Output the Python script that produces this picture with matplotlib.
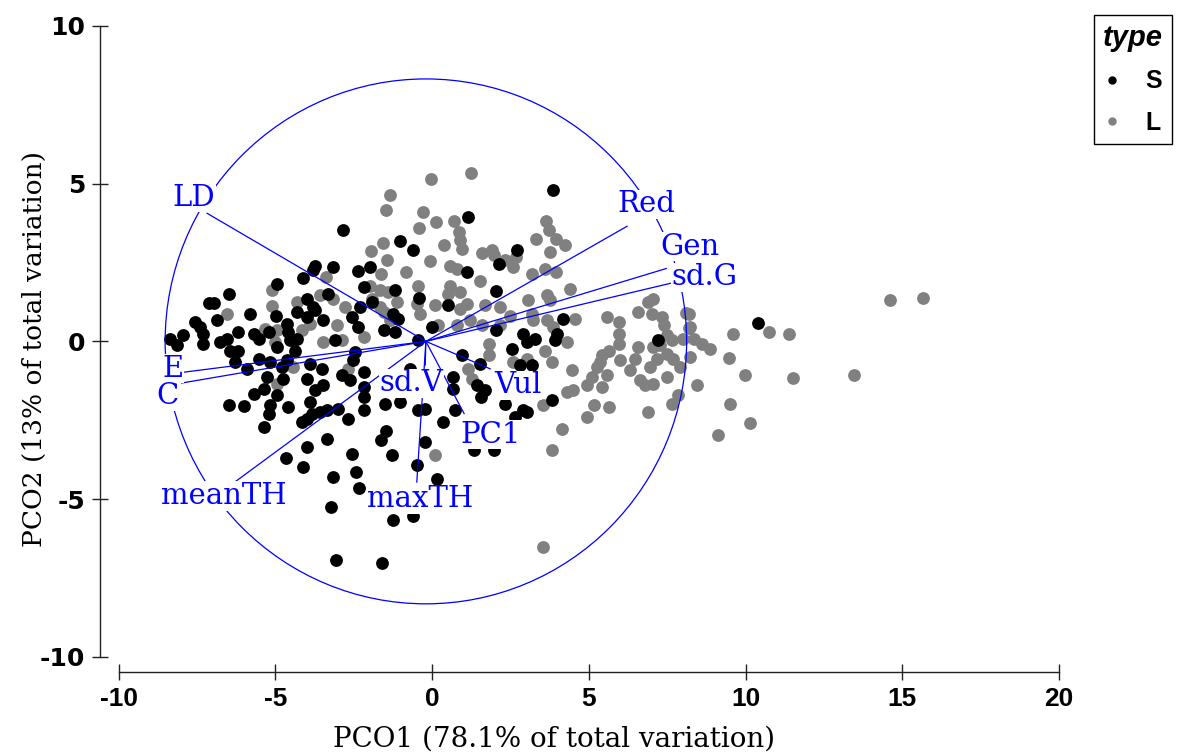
import matplotlib
matplotlib.use("Agg")
import matplotlib.pyplot as plt
from matplotlib.patches import Circle
from matplotlib.lines import Line2D

plt.rcParams["axes.unicode_minus"] = False

# type S (black)
s_x = [-2.86, -3.73, -3.81, -3.15, -2.35, -4.13, -1.02, -1.98, -1.18,
       -6.48, -4.96, -7.11, -6.95, -5.81, -6.87, -7.56, -7.40, -7.30, -7.94,
       -8.36, -8.15, -7.30, -6.77, -6.55, -6.45, -6.18, -6.18, -6.29, -5.70,
       -5.54, -5.22, -4.98, -4.96, -4.64, -4.59, -4.53, -4.32, -4.37, -4.32,
       -4.00, -4.00, -3.73, -3.47, -3.31, -3.79, -3.10, -2.56, -2.35, -2.30,
       -2.46, -5.91, -5.54, -5.17, -4.64, -4.80, -3.89, -3.52, -5.28, -4.75,
       -4.00, -5.38, -5.70, -4.96, -3.73, -3.47, -2.88, -2.62, -2.19, -2.51,
       -2.19, -2.19, -1.92, -1.08, -1.55, -1.18,
       -0.44, 0.52, -0.01, 2.91, 3.02, 2.54, 0.95, 1.53, -0.70, 0.68, 0.68,
       1.43, 1.69, 1.55, -0.22, -0.44, 0.73, 2.33, 2.91, -1.24, 2.81, 3.18,
       1.16, -0.60, 2.72, 2.13, 1.11, 2.04, -0.41, 3.85, 2.04,
       4.17, 3.29, 3.98, 3.93, 7.22, 3.82,
       3.02, 0.36, -0.22, -0.49, 0.15, -0.60, 1.32, 1.96, 2.65,
       10.40,
       -6.47, -5.99, -5.38, -5.22, -5.17, -4.59, -4.16, -4.00, -3.84, -3.57,
       -3.89, -3.36, -2.99, -2.67, -2.19, -2.19, -1.50, -1.02, -1.47, -1.64,
       -1.29, -3.36, -4.00, -4.66, -4.11, -2.56, -2.44, -2.32, -3.15, -3.22,
       -1.24, -3.07, -1.59]
s_y = [3.52, 2.38, 2.25, 2.36, 2.22, 2.01, 3.17, 2.36, 1.62,
       1.51, 1.83, 1.21, 1.21, 0.88, 0.67, 0.61, 0.45, 0.24, 0.19,
       0.09, -0.13, -0.07, -0.02, 0.09, -0.29, -0.29, 0.29, -0.66, 0.24,
       0.09, 0.29, 0.79, -0.18, 0.56, 0.29, 0.03, 0.09, -0.29, 0.93,
       0.77, 1.35, 0.98, 0.67, 1.51, 1.09, 0.03, 0.77, 0.45, 1.09,
       -0.34, -0.87, -0.55, -0.66, -0.60, -0.81, -0.71, -0.87, -1.13, -1.18,
       -1.18, -1.50, -1.66, -1.71, -1.55, -1.39, -1.08, -1.24, -0.97, -0.60,
       -1.45, 1.72, 1.25, 0.72, 0.35, 0.29,
       0.03, 1.14, 0.45, 0.24, -0.02, -0.23, -0.44, -0.71, -0.87, -1.13, -1.50,
       -1.39, -1.55, -1.75, -2.13, -2.19, -2.19, -1.97, -2.19, 0.88, -0.76, -0.76,
       3.94, 2.91, 2.91, 2.44, 2.20, 1.59, 1.37, 4.79, 0.37,
       0.72, 0.09, 0.24, 0.03, 0.03, -1.87,
       -2.24, -2.56, -3.19, -3.93, -4.35, -5.52, -3.43, -3.43, -2.40,
       0.59,
       -2.01, -2.05, -2.72, -2.29, -2.03, -2.08, -2.56, -2.45, -2.29, -2.24,
       -1.92, -2.19, -2.13, -2.45, -2.19, -1.77, -1.97, -1.92, -2.84, -3.14,
       -3.59, -3.11, -3.35, -3.70, -3.98, -3.56, -4.14, -4.65, -4.30, -5.25,
       -5.67, -6.92, -7.03]

# type L (grey)
l_x = [-3.38, -1.36, -1.47, -1.57, -1.96, -1.43, -1.64, -0.83, -1.98, -1.66,
       -1.40, -1.92, -1.13, -1.55, -1.34,
       -6.55, -5.12, -5.12, -4.32, -3.57, -3.15, -2.78, -3.47, -3.04, -2.88,
       -4.96, -5.33, -5.01, -4.16, -3.89, -4.96, -4.43, -2.67, -2.19,
       -1.66, -0.49, -0.38, 0.10, 0.20, 0.89, 1.11, 0.79, 1.21, 1.69, 2.17,
       2.17, 1.80, 1.80, 2.59, 3.02, 1.16, 1.27, 3.18,
       -0.04, 1.24, -0.30, 0.13, 0.71, -0.41, 0.87, 0.89, 0.95, 0.39, -0.06,
       1.59, 1.91, 1.96, 2.33, 2.68, 0.57, 0.79, 1.53, 2.59, -0.44, 0.57, 0.89,
       0.52, 1.59, 2.49, 3.07, 3.66,
       3.64, 3.74, 3.32, 3.96, 4.25, 3.77, 3.61, 3.18, 3.96,
       4.40, 3.66, 3.77, 6.90, 7.06, 6.58, 7.01, 7.33, 5.58, 4.56, 3.23, 5.95,
       7.39, 8.18, 8.23, 3.87, 5.95, 7.49, 7.65, 8.02, 8.34, 8.61, 8.87, 4.30,
       5.95, 6.58, 7.06, 7.28, 3.61, 5.63, 5.42, 7.49, 7.70, 8.23, 3.82, 5.36,
       6.00, 6.48, 7.17, 6.96, 7.92, 5.26, 4.46, 5.10, 5.58, 6.32, 6.64, 6.80,
       7.06, 7.49, 4.94, 5.42, 8.45, 4.30, 4.51, 3.55, 5.15, 5.63, 7.86, 7.65,
       4.94, 4.14, 3.82, 3.55, 6.90, 0.10,
       8.11, 8.20, 9.60, 10.76, 11.40, 14.60, 15.65, 9.48, 9.97, 11.53, 13.46,
       9.49, 10.13, 9.11]
l_y = [2.04, 4.65, 4.15, 3.12, 2.86, 2.59, 2.15, 2.20, 1.77, 1.62,
       1.55, 1.35, 1.25, 0.93, 0.67,
       0.86, 1.11, 1.62, 1.25, 1.46, 1.35, 1.09, -0.02, 0.51, 0.03,
       0.35, 0.40, -0.02, 0.35, 0.56, -1.34, -0.81, -0.87, 0.14,
       1.09, 1.19, 0.88, 1.14, 0.51, 1.04, 1.19, 0.51, 0.67, 1.14, 1.09,
       0.51, -0.07, -0.44, -0.66, -0.55, -0.87, -1.18, 0.88,
       5.16, 5.35, 4.10, 3.78, 3.81, 3.60, 3.46, 3.20, 2.94, 3.07, 2.54,
       2.80, 2.91, 2.73, 2.57, 2.67, 2.38, 2.30, 1.93, 2.36, 1.77, 1.77, 1.56,
       1.51, 0.51, 0.82, 1.30, 0.69,
       3.81, 3.52, 3.26, 3.26, 3.04, 2.83, 2.30, 2.14, 2.20,
       1.67, 1.46, 1.30, 1.25, 1.35, 0.93, 0.88, 0.77, 0.77, 0.72, 0.67, 0.61,
       0.51, 0.88, 0.45, 0.45, 0.24, 0.19, 0.03, 0.09, 0.09, -0.07, -0.23, -0.02,
       -0.07, -0.18, -0.18, -0.13, -0.29, -0.29, -0.44, -0.39, -0.55, -0.50, -0.66, -0.66,
       -0.60, -0.55, -0.55, -0.81, -0.81, -0.81, -0.92, -1.13, -1.08, -0.92, -1.24, -1.39,
       -1.34, -1.13, -1.39, -1.45, -1.39, -1.61, -1.55, -2.03, -2.03, -2.08, -1.71, -1.97,
       -2.40, -2.77, -3.45, -6.52, -2.24, -3.61,
       0.91, 0.42, 0.24, 0.29, 0.22, 1.30, 1.37, -0.52, -1.08, -1.15, -1.08,
       -2.00, -2.59, -2.98]

# vectors (end points) and their labels
vec_names = ["LD", "Red", "Gen", "sd.G", "E", "C", "meanTH", "sd.V", "maxTH", "PC1", "Vul"]
vec_x = [-7.18, 6.22, 7.47, 7.60, -7.95, -7.99, -6.34, -0.22, -0.49, 1.02, 1.85]
vec_y = [4.06, 3.65, 2.31, 1.84, -0.98, -1.32, -4.49, -0.75, -4.46, -2.29, -0.87]
lab_x = [-7.60, 6.83, 8.23, 8.68, -8.28, -8.46, -6.66, -0.67, -0.38, 1.87, 2.73]
lab_y = [4.56, 4.34, 3.00, 2.03, -0.87, -1.74, -4.90, -1.33, -5.00, -2.96, -1.39]
origin = (-0.2, 0.0)
circle_r = 8.32

x_ticks = [-10, -5, 0, 5, 10, 15, 20]
y_ticks = [-10, -5, 0, 5, 10]

fig = plt.figure(figsize=(11.8, 7.54), dpi=100)
ax = fig.add_axes([0.0847, 0.1088, 0.8127, 0.8568])

ax.scatter(l_x, l_y, s=85, c="#808080", linewidths=0, zorder=2)
ax.scatter(s_x, s_y, s=85, c="black", linewidths=0, zorder=2)

ax.add_patch(Circle(origin, circle_r, fill=False, ec="blue", lw=0.9, zorder=3))
for name, vx, vy, tx, ty in zip(vec_names, vec_x, vec_y, lab_x, lab_y):
    ax.plot([origin[0], vx], [origin[1], vy], color="blue", lw=0.9, zorder=3)
    ax.text(tx, ty, name, color="blue", fontsize=21, family="DejaVu Serif",
            ha="center", va="center", zorder=4,
            bbox=dict(fc="white", ec="none", pad=0.5))

ax.set_xlim(-10.6, 20)
ax.set_ylim(-10.48, 10)
ax.spines["top"].set_visible(False)
ax.spines["right"].set_visible(False)
ax.spines["left"].set_bounds(-10, 10)
ax.spines["bottom"].set_bounds(-10, 20)
for sp in ("left", "bottom"):
    ax.spines[sp].set_color("#222222")
    ax.spines[sp].set_linewidth(1.0)

ax.set_xticks(x_ticks)
ax.set_xticklabels([str(t) for t in x_ticks], family="Liberation Sans",
                   fontweight="bold", fontsize=19)
ax.set_yticks(y_ticks)
ax.set_yticklabels([str(t) for t in y_ticks], family="DejaVu Sans",
                   fontweight="bold", fontsize=18)
ax.tick_params(direction="inout", length=11, width=1, color="#222222", pad=5)

ax.set_xlabel("PCO1 (78.1% of total variation)", family="DejaVu Serif", fontsize=20)
ax.set_ylabel("PCO2 (13% of total variation)", family="DejaVu Serif", fontsize=19)
ax.xaxis.set_label_coords(0.474, -0.083)
ax.yaxis.set_label_coords(-0.055, 0.5)

handles = [Line2D([], [], marker="o", ls="", color="black", markersize=5),
           Line2D([], [], marker="o", ls="", color="#808080", markersize=5)]
leg = fig.legend(handles, ["S", "L"], title="type", loc="upper right",
                 bbox_to_anchor=(0.9932, 0.980), borderaxespad=0,
                 frameon=True, fancybox=False,
                 edgecolor="black", framealpha=1,
                 prop=dict(family="Liberation Sans", weight="bold", size=18),
                 title_fontproperties=dict(family="Liberation Sans", weight="bold",
                                           style="italic", size=21),
                 handlelength=0.6, handletextpad=1.0, labelspacing=0.7,
                 borderpad=0.35)
leg.get_frame().set_linewidth(1.0)

fig.savefig("out.png", dpi=100)
